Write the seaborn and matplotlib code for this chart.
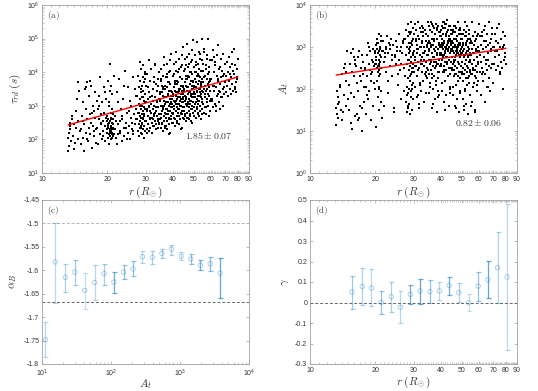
import numpy as np
import pandas as pd
import matplotlib
matplotlib.use("Agg")
import matplotlib.pyplot as plt
import seaborn as sns
from matplotlib.ticker import FixedLocator, FixedFormatter, LogLocator, NullFormatter

# ---------------- data: events (shared r) for panels (a) and (b) ----------------
r_ev = [
    13.2,13.3,13.2,13.4,13.5,13.3,13.6,13.8,13.9,14.0,14.1,14.3,14.4,14.5,14.6,14.7,14.8,14.9,13.7,14.2,14.6,13.4,
    15.1,15.2,15.3,15.4,15.5,15.6,15.7,15.8,15.9,16.0,16.1,16.2,16.3,16.4,16.5,16.6,16.7,16.8,16.9,17.0,17.1,17.2,17.3,17.4,17.5,17.6,17.7,17.8,17.9,15.5,16.2,16.6,17.0,17.4,16.0,
    18.0,18.1,18.2,18.3,18.4,18.5,18.6,18.7,18.8,18.9,19.0,19.1,19.2,19.3,19.4,19.5,19.6,19.7,19.8,19.9,18.3,18.8,19.2,19.6,19.9,
    20.0,20.1,20.1,20.2,20.2,20.3,20.3,20.4,20.4,20.5,20.5,20.6,20.6,20.7,20.7,20.8,20.8,20.9,20.9,21.0,21.0,21.1,21.1,21.2,21.2,21.3,21.3,21.4,21.4,
    20.0,20.2,20.4,20.6,20.8,21.0,21.2,20.1,20.3,20.5,20.7,20.9,21.1,21.3,20.5,20.8,
    21.6,21.8,22.0,22.1,22.3,22.5,22.6,22.8,23.0,23.1,23.3,23.5,23.7,23.9,24.0,24.2,24.4,24.6,24.8,25.0,25.2,25.4,25.6,25.8,26.0,26.2,26.4,26.6,26.8,27.0,27.2,
    21.9,22.4,22.9,23.4,23.8,24.3,24.7,25.1,25.5,25.9,26.3,26.7,27.1,22.2,
    27.4,27.5,27.6,27.7,27.8,27.9,28.0,28.0,28.1,28.2,28.2,28.3,28.3,28.4,28.4,28.5,28.5,28.6,28.6,28.7,28.7,28.8,28.8,28.9,28.9,
    29.0,29.0,29.1,29.1,29.2,29.2,29.3,29.3,29.4,29.4,29.5,29.5,29.6,29.6,29.7,29.7,29.8,29.8,29.9,29.9,28.1,28.5,28.9,29.3,29.7,28.3,28.7,29.1,29.5,29.9,
    30.1,30.2,30.3,30.4,30.5,30.6,30.7,30.8,30.9,31.0,31.1,31.2,31.3,31.4,31.5,31.6,31.7,31.8,31.9,32.0,32.1,32.2,32.3,32.4,32.5,
    32.6,32.7,32.8,32.9,33.0,33.1,33.2,33.3,33.4,33.5,33.6,33.7,33.8,33.9,34.0,34.1,34.2,34.3,34.4,34.5,34.6,34.7,34.8,34.9,
    30.35,30.85,31.35,31.85,32.35,32.85,33.35,33.85,34.35,34.85,30.6,31.1,31.6,32.1,32.6,33.1,33.6,34.1,34.6,31.4,32.9,
    35.0,35.1,35.2,35.3,35.4,35.5,35.6,35.7,35.8,35.9,36.0,36.1,36.2,36.3,36.4,36.5,36.6,36.7,36.8,36.9,37.0,37.1,37.2,37.3,37.4,
    37.5,37.6,37.7,37.8,37.9,38.0,38.1,38.2,38.3,38.4,38.5,38.6,38.7,38.8,38.9,39.0,39.1,39.2,39.3,39.4,39.5,39.6,39.7,39.8,39.9,
    35.05,35.25,35.45,35.65,35.85,36.05,36.25,36.45,36.65,36.85,37.05,37.25,37.45,37.65,37.85,38.05,38.25,38.45,38.65,38.85,39.05,39.25,39.45,39.65,39.85,
    35.5,36.0,36.5,37.0,37.5,38.0,38.5,39.0,39.5,37.2,
    40.0,40.1,40.2,40.3,40.4,40.5,40.6,40.7,40.8,40.9,41.0,41.1,41.2,41.3,41.4,41.5,41.6,41.7,41.8,41.9,42.0,42.1,42.2,42.3,42.4,
    42.5,42.6,42.7,42.8,42.9,43.0,43.1,43.2,43.3,43.4,43.5,43.6,43.7,43.8,43.9,44.0,44.1,44.2,44.3,44.4,44.5,44.6,44.7,44.8,44.9,
    40.05,40.25,40.45,40.65,40.85,41.05,41.25,41.45,41.65,41.85,42.05,42.25,42.45,42.65,42.85,43.05,43.25,43.45,43.65,43.85,44.05,44.25,44.45,44.65,44.85,
    40.5,41.0,41.5,42.0,42.5,43.0,43.5,44.0,44.5,42.2,
    45.0,45.1,45.2,45.3,45.4,45.5,45.6,45.7,45.8,45.9,46.0,46.1,46.2,46.3,46.4,46.5,46.6,46.7,46.8,46.9,47.0,47.1,47.2,47.3,47.4,
    47.5,47.6,47.7,47.8,47.9,48.0,48.1,48.2,48.3,48.4,48.5,48.6,48.7,48.8,48.9,49.0,49.1,49.2,49.3,49.4,49.5,49.6,49.7,49.8,49.9,
    45.05,45.25,45.45,45.65,45.85,46.05,46.25,46.45,46.65,46.85,47.05,47.25,47.45,47.65,47.85,48.05,48.25,48.45,48.65,48.85,49.05,49.25,49.45,49.65,49.85,
    46.0,47.0,48.0,49.0,47.5,
    50.0,50.1,50.2,50.3,50.4,50.5,50.6,50.7,50.8,50.9,51.0,51.1,51.2,51.3,51.4,51.5,51.6,51.7,51.8,51.9,52.0,52.1,52.2,52.3,52.4,
    52.5,52.6,52.7,52.8,52.9,53.0,53.1,53.2,53.3,53.4,53.5,53.6,53.7,53.8,53.9,54.0,54.1,54.2,54.3,54.4,54.5,54.6,54.7,54.8,54.9,
    50.25,50.75,51.25,51.75,52.25,52.75,53.25,53.75,54.25,54.75,51.5,52.5,53.5,54.5,52.0,
    55.0,55.2,55.4,55.6,55.8,56.0,56.2,56.4,56.6,56.8,57.0,57.2,57.4,57.6,57.8,58.0,58.2,58.4,58.6,58.8,59.0,59.2,59.4,59.6,59.8,
    55.1,55.35,55.6,55.85,56.1,56.35,56.6,56.85,57.1,57.35,57.6,57.85,58.1,58.35,58.6,58.85,59.1,59.35,59.6,59.85,
    60.2,60.5,60.8,61.1,61.4,61.7,62.0,62.3,62.6,62.9,63.2,63.5,63.8,64.1,64.4,64.7,65.0,65.3,65.6,65.9,66.2,66.5,66.8,67.1,67.4,67.7,68.0,68.3,68.6,68.9,69.2,69.5,69.8,
    60.9,61.8,62.7,63.6,64.5,65.4,66.3,67.2,68.1,69.0,62.2,64.9,
    70.3,70.7,71.1,71.5,71.9,72.3,72.7,73.1,73.5,73.9,74.3,74.7,75.1,75.5,75.9,76.3,76.7,77.1,77.5,77.9,78.3,78.7,79.1,79.5,79.9,71.3,73.3,75.3,77.3,79.3,
]

log_tau = [
    1.65,1.8,2.05,2.3,2.5,2.2,1.95,2.6,2.1,2.45,1.7,2.85,2.35,3.2,2.0,2.55,3.45,2.25,2.7,1.9,3.7,2.4,
    2.3,1.85,2.7,3.1,2.05,2.45,1.65,3.5,2.2,2.9,2.6,3.7,1.95,2.35,3.3,2.75,2.15,3.6,2.5,1.75,3.0,2.4,2.85,2.1,3.4,2.65,1.9,2.3,3.15,2.55,2.0,3.75,2.8,2.25,3.55,
    2.35,2.9,1.85,3.3,2.6,2.15,3.85,2.45,2.75,2.0,3.1,2.55,2.25,3.55,2.8,1.95,2.4,3.2,2.65,2.3,3.0,2.5,2.1,3.4,2.7,
    2.2,2.45,2.05,2.6,2.35,3.1,2.15,2.5,1.85,2.3,4.25,2.55,2.1,2.4,3.6,2.25,2.0,2.65,2.35,2.9,2.2,2.5,3.35,2.1,2.45,2.75,2.3,3.9,2.15,
    2.55,2.4,3.0,2.25,2.6,2.05,2.35,3.75,2.5,2.2,2.8,2.4,2.15,2.6,3.45,2.3,
    2.3,2.7,2.05,3.4,2.45,2.15,3.8,2.55,2.25,2.9,1.95,2.6,3.2,2.35,2.1,4.05,2.5,2.8,2.2,3.55,2.4,2.0,3.0,2.65,2.3,3.85,2.15,2.75,2.45,3.3,2.9,
    2.55,3.1,2.2,2.7,3.6,2.35,2.0,2.85,3.15,2.5,2.25,3.5,2.6,1.85,
    2.6,3.3,2.25,3.9,2.8,2.45,3.55,2.1,3.05,2.7,4.3,2.35,3.2,2.55,3.75,2.9,2.2,3.4,2.65,4.1,2.4,3.0,2.75,3.6,2.15,
    3.25,2.5,3.85,2.85,2.3,3.45,2.6,4.2,2.95,2.05,3.15,2.7,3.7,2.4,3.35,2.55,2.9,4.0,2.25,3.1,2.8,3.5,2.45,2.65,3.8,3.0,2.35,3.25,2.75,3.95,
    3.1,2.55,3.6,2.3,2.85,3.95,2.45,3.2,2.7,4.35,2.25,3.4,2.95,2.6,3.75,2.35,3.05,2.8,4.1,2.5,3.3,2.65,2.2,3.5,2.9,
    3.15,2.4,3.85,2.75,3.0,2.55,4.2,3.25,2.45,2.85,3.65,2.3,3.1,2.7,3.45,2.95,2.6,3.8,2.35,3.2,2.75,4.0,2.5,3.35,
    2.9,3.55,2.65,3.05,2.4,3.7,2.8,3.15,2.55,3.4,2.2,3.0,2.85,3.3,2.6,4.25,2.95,3.6,2.45,3.25,2.7,
    3.2,2.6,3.75,2.35,3.0,4.1,2.85,3.4,2.5,3.6,2.95,2.25,3.3,3.9,2.7,3.15,4.45,2.55,3.5,2.8,3.05,2.4,3.85,3.25,2.65,
    3.55,2.9,4.25,2.3,3.35,2.75,3.1,3.7,2.45,3.0,4.0,2.6,3.45,2.85,3.2,2.2,3.65,2.95,3.3,2.7,4.55,3.05,2.5,3.4,2.8,
    3.15,2.65,3.8,3.0,2.45,3.5,2.9,4.2,3.25,2.35,3.6,2.75,3.1,3.95,2.55,3.35,2.85,3.7,2.15,3.05,4.35,2.6,3.45,2.95,3.2,
    2.75,3.55,3.0,2.4,3.85,3.3,2.65,4.05,3.1,2.9,
    3.35,2.75,3.9,2.5,3.15,4.25,3.0,3.55,2.65,3.75,3.1,2.4,3.45,4.05,2.85,3.3,4.6,2.7,3.65,2.95,3.2,2.55,4.0,3.4,2.8,
    3.7,3.05,4.4,2.45,3.5,2.9,3.25,3.85,2.6,3.15,4.15,2.75,3.6,3.0,3.35,2.35,3.8,3.1,3.45,2.85,4.75,3.2,2.65,3.55,2.95,
    3.3,2.8,3.95,3.15,2.6,3.65,3.05,4.3,3.4,2.5,3.75,2.9,3.25,4.1,2.7,3.5,3.0,3.85,2.3,3.2,4.5,2.75,3.6,3.1,3.35,
    2.9,3.7,3.15,2.55,4.0,3.45,2.8,4.2,3.25,3.05,
    3.5,2.85,4.05,2.6,3.3,4.4,3.15,3.7,2.75,3.9,3.25,2.55,3.6,4.2,3.0,3.45,4.85,2.8,3.8,3.1,3.35,2.65,4.15,3.55,2.95,
    3.85,3.2,4.55,2.6,3.65,3.05,3.4,4.0,2.75,3.3,4.3,2.9,3.75,3.15,3.5,2.5,3.95,3.25,3.6,3.0,4.95,3.35,2.8,3.7,3.1,
    3.45,2.95,4.1,3.3,2.7,3.8,3.2,4.45,3.55,2.65,3.9,3.05,3.4,4.25,2.85,3.65,3.15,4.0,2.55,3.35,4.65,2.9,3.75,3.25,3.5,
    3.05,3.85,2.7,4.35,3.2,
    3.6,2.95,4.15,2.7,3.4,4.5,3.25,3.8,2.85,4.0,3.35,2.65,3.7,4.3,3.1,3.55,4.9,2.9,3.9,3.2,3.45,2.75,4.25,3.65,3.05,
    3.95,3.3,4.6,2.7,3.75,3.15,3.5,4.1,2.85,3.4,4.4,3.0,3.85,3.25,3.6,2.6,4.05,3.35,3.7,3.1,5.0,3.45,2.9,3.8,3.2,
    3.55,3.05,4.2,3.4,2.8,3.9,3.3,4.55,3.65,2.75,4.0,3.15,3.5,4.35,2.95,
    3.7,3.05,4.25,2.8,3.5,4.6,3.35,3.9,2.95,4.1,3.45,2.75,3.8,4.4,3.2,3.65,5.0,3.0,4.0,3.3,3.55,2.85,4.35,3.75,3.15,
    4.05,3.4,4.7,2.8,3.85,3.25,3.6,4.2,2.95,3.5,4.5,3.1,3.95,3.35,3.7,2.7,4.15,3.45,3.8,3.2,
    3.8,3.2,4.35,2.95,3.6,4.65,3.45,4.0,3.05,4.2,3.55,2.85,3.9,4.5,3.3,3.75,4.8,3.1,4.1,3.4,3.65,2.9,4.4,3.85,3.25,4.05,3.5,4.55,3.0,3.95,3.35,3.7,4.25,
    3.15,3.6,4.3,3.0,3.8,3.45,4.15,3.25,3.9,3.55,4.45,3.35,
    3.9,3.4,4.3,3.6,4.0,3.3,4.45,3.75,3.5,4.15,3.85,3.35,4.6,3.65,4.05,3.45,3.95,4.7,3.55,4.2,3.7,3.4,4.1,3.8,4.4,3.6,3.95,4.25,3.5,3.85,
]

log_At = [
    1.15,1.4,1.55,1.8,1.3,1.95,1.7,2.1,1.5,2.35,1.25,2.5,1.85,2.6,1.6,2.2,2.9,1.75,2.05,1.45,2.4,1.65,
    2.1,1.5,2.6,2.85,1.2,2.4,1.05,2.95,1.8,2.3,2.7,1.35,2.55,2.15,1.4,2.75,1.95,2.9,1.3,1.6,2.5,2.2,2.8,1.0,2.65,2.35,1.7,2.05,2.45,1.9,2.6,1.25,2.3,1.55,2.75,
    2.5,2.05,1.4,2.8,2.3,1.75,3.1,2.6,1.95,2.45,2.9,1.25,2.2,2.7,2.4,1.6,2.95,2.15,2.55,2.85,1.85,3.0,2.35,2.65,2.0,
    2.9,2.6,1.1,3.05,2.75,2.2,3.2,2.5,2.95,1.8,2.85,3.1,2.4,2.7,3.3,2.05,2.9,2.55,1.5,2.8,3.0,2.35,2.65,3.15,1.95,2.75,2.5,2.9,1.3,
    2.6,3.05,2.2,2.85,2.45,2.95,1.7,2.7,3.1,2.4,2.6,2.0,2.8,3.25,2.55,2.3,
    2.9,3.15,1.6,2.75,3.0,2.4,3.25,2.85,1.9,3.1,2.55,2.95,3.2,2.3,2.7,3.05,1.45,2.8,3.15,2.6,2.9,2.1,3.3,2.7,2.45,3.0,1.75,2.85,3.1,2.5,3.2,
    2.65,2.95,2.2,3.05,2.8,1.55,2.75,3.0,2.35,2.9,2.6,3.15,1.95,2.85,
    2.3,3.2,1.7,2.8,3.4,2.05,2.6,1.45,3.0,2.25,3.55,1.9,2.7,3.25,1.55,2.45,3.1,2.0,2.85,3.35,1.65,2.55,3.0,2.2,1.4,
    2.9,3.3,1.8,2.65,2.35,3.6,1.95,2.75,3.15,2.1,1.5,2.5,3.05,2.4,2.8,1.75,3.45,2.15,2.6,3.2,1.85,2.95,2.3,3.1,2.5,1.6,2.7,3.35,2.0,2.85,
    2.9,3.3,2.4,3.55,2.7,2.05,3.15,2.55,3.4,1.8,2.85,3.05,2.3,3.6,2.65,2.95,1.55,3.2,2.5,2.8,3.45,2.15,3.0,2.6,3.35,
    1.95,2.75,3.1,2.4,3.5,2.85,2.2,3.25,2.7,1.7,3.0,2.55,3.4,2.9,2.35,3.15,2.65,1.9,3.3,2.8,2.5,3.05,2.25,3.6,
    2.75,3.2,2.45,1.65,3.0,2.6,3.35,2.9,2.3,3.1,2.55,2.95,3.25,2.1,2.7,3.45,2.85,2.4,3.0,1.85,3.15,
    2.8,3.25,2.35,3.5,2.95,1.9,3.1,2.6,3.4,2.15,3.0,2.7,3.6,2.45,1.55,3.2,2.85,3.35,2.55,2.0,3.05,2.75,3.45,2.3,3.15,
    1.75,2.9,3.3,2.5,3.55,2.65,2.1,3.0,2.85,3.4,1.45,2.6,3.2,2.4,2.95,3.5,2.25,3.1,2.7,1.85,3.35,2.55,3.0,2.8,3.25,
    2.45,3.15,2.9,2.05,3.4,2.65,3.05,2.35,3.55,2.75,1.65,3.2,2.95,2.5,3.3,2.2,3.0,2.8,3.45,2.6,1.95,3.1,2.4,2.85,3.35,
    2.7,3.0,2.25,3.5,2.9,2.55,3.2,1.8,3.05,2.65,
    3.05,2.6,3.4,2.85,3.2,1.95,3.5,2.7,3.1,2.4,3.3,2.95,3.6,2.55,1.7,3.15,2.8,3.45,2.65,2.2,3.0,2.9,3.55,2.45,3.25,
    1.85,3.05,3.35,2.6,3.65,2.75,2.3,3.1,2.95,3.4,1.6,2.7,3.2,2.5,3.0,3.5,2.35,3.15,2.85,2.05,3.3,2.65,3.05,2.9,3.4,
    2.55,3.25,3.0,2.15,3.45,2.75,3.1,2.45,3.6,2.85,1.5,3.3,3.0,2.6,3.35,2.3,3.15,2.9,3.5,2.7,2.0,3.2,2.5,2.95,3.4,
    2.8,3.05,2.4,3.55,2.95,2.65,3.25,1.9,3.1,2.75,
    2.95,2.5,3.3,2.75,3.1,1.85,3.4,2.6,3.0,2.3,3.2,2.85,3.5,2.45,1.6,3.05,2.7,3.35,2.55,2.1,2.9,2.8,3.45,2.35,3.15,
    1.75,2.95,3.25,2.5,3.6,2.65,2.2,3.0,2.85,3.3,1.45,2.6,3.1,2.4,2.9,3.4,2.25,3.05,2.75,1.95,3.2,2.55,2.95,2.8,3.3,
    2.45,3.15,2.9,2.05,3.35,2.65,3.0,2.35,3.5,2.75,1.55,3.2,2.9,2.5,3.25,2.2,3.05,2.8,3.4,2.6,1.9,3.1,2.4,2.85,3.3,
    2.7,3.0,2.3,3.45,2.85,
    2.85,2.4,3.2,2.65,3.0,1.75,3.3,2.5,2.9,2.2,3.1,2.75,3.4,2.35,1.5,2.95,2.6,3.25,2.45,2.0,2.8,2.7,3.35,2.25,3.05,
    1.65,2.85,3.15,2.4,3.5,2.55,2.1,2.9,2.75,3.2,1.4,2.5,3.0,2.3,2.8,3.3,2.15,2.95,2.65,1.85,3.1,2.45,2.85,2.7,3.2,
    2.35,3.05,2.8,1.95,3.25,2.55,2.9,2.25,3.4,2.65,1.6,3.1,2.8,2.4,3.6,
    2.8,2.35,3.15,2.6,2.95,1.7,3.25,2.45,2.85,2.15,3.05,2.7,3.35,2.3,1.5,2.9,2.55,3.2,2.4,1.95,2.75,2.65,3.3,2.2,3.0,
    1.6,2.8,3.1,2.35,3.6,2.5,2.05,2.85,2.7,3.15,1.45,2.45,2.95,2.25,2.75,3.25,2.1,2.9,2.6,3.55,
    2.9,2.4,3.25,2.65,3.05,1.85,3.35,2.5,2.95,2.2,3.15,2.75,3.5,2.35,1.7,3.0,2.6,3.3,2.45,2.05,2.85,2.7,3.6,2.25,3.1,1.95,2.9,3.2,2.5,3.45,2.6,2.15,3.0,
    2.8,3.25,2.4,3.4,2.7,2.05,3.05,2.55,2.95,3.3,2.35,3.15,
    3.0,2.6,3.3,2.75,3.15,2.45,3.45,2.9,2.55,3.1,2.8,3.55,2.35,3.0,2.65,3.2,2.5,2.95,3.35,2.0,2.7,3.05,2.85,3.25,2.6,2.9,3.1,2.4,3.0,2.75,
]

# fitted power laws (endpoints)
fit_r = [13.2, 80.0]
fit_tau = [270.0, 7200.0]
fit_At = [215.0, 930.0]
slope_a_text = r"$1.85 \pm 0.07$"
slope_b_text = r"$0.82 \pm 0.06$"

# ---------------- panel (c) ----------------
c_At = [11.2, 15.5, 21.8, 29.9, 41.6, 57.8, 79.4, 110, 152, 208, 286, 398, 547, 752, 1045, 1436, 1974, 2741, 3811]
c_alpha = [-1.748, -1.582, -1.615, -1.604, -1.643, -1.626, -1.607, -1.625, -1.604, -1.597,
           -1.571, -1.572, -1.564, -1.555, -1.570, -1.576, -1.589, -1.586, -1.606]
c_hi = [-1.711, -1.499, -1.586, -1.577, -1.605, -1.588, -1.586, -1.604, -1.588, -1.581,
        -1.559, -1.559, -1.554, -1.545, -1.561, -1.566, -1.579, -1.572, -1.574]
c_lo = [-1.786, -1.669, -1.646, -1.632, -1.682, -1.663, -1.631, -1.648, -1.619, -1.612,
        -1.584, -1.586, -1.574, -1.568, -1.579, -1.587, -1.599, -1.601, -1.659]
c_shade = [0.28, 0.28, 0.32, 0.36, 0.22, 0.28, 0.36, 0.58, 0.45, 0.42,
           0.28, 0.32, 0.36, 0.32, 0.28, 0.42, 0.52, 0.46, 0.62]
c_ref = [-1.5, -1.667]

# ---------------- panel (d) ----------------
d_r = [15.6, 17.4, 19.2, 21.3, 23.7, 26.1, 29.0, 32.2, 35.7, 39.5, 43.8, 48.5, 53.8, 59.6, 66.1, 73.2, 81.1]
d_gamma = [0.051, 0.078, 0.070, 0.001, 0.028, -0.023, 0.040, 0.056, 0.053, 0.057, 0.083, 0.048, -0.001, 0.080, 0.111, 0.170, 0.124]
d_hi = [0.130, 0.169, 0.161, 0.056, 0.100, 0.057, 0.085, 0.117, 0.111, 0.100, 0.125, 0.094, 0.041, 0.148, 0.201, 0.342, 0.481]
d_lo = [-0.030, -0.012, -0.019, -0.057, -0.044, -0.099, -0.009, -0.006, -0.004, 0.014, 0.036, 0.002, -0.041, 0.007, 0.020, -0.001, -0.230]
d_shade = [0.38, 0.32, 0.28, 0.42, 0.32, 0.28, 0.56, 0.62, 0.42, 0.28, 0.56, 0.32, 0.22, 0.42, 0.62, 0.32, 0.28]

r_ticks = [10, 20, 30, 40, 50, 60, 70, 80, 90]

# ---------------- style ----------------
sns.set_theme(style="ticks")
plt.rcParams.update({
    "font.family": ["Liberation Sans", "DejaVu Sans"],
    "mathtext.fontset": "cm",
    "mathtext.rm": "Liberation Sans",
    "mathtext.it": "Liberation Sans:italic",
    "mathtext.bf": "Liberation Sans:bold",
    "axes.edgecolor": "#a0a0a0",
    "axes.linewidth": 0.6,
    "xtick.color": "#a0a0a0", "ytick.color": "#a0a0a0",
    "xtick.labelcolor": "#333333", "ytick.labelcolor": "#333333",
    "xtick.direction": "in", "ytick.direction": "in",
    "xtick.major.size": 2.5, "ytick.major.size": 2.5,
    "xtick.minor.size": 1.3, "ytick.minor.size": 1.3,
    "xtick.major.width": 0.5, "ytick.major.width": 0.5,
    "xtick.minor.width": 0.4, "ytick.minor.width": 0.4,
    "xtick.labelsize": 5, "ytick.labelsize": 5,
    "xtick.major.pad": 2.5, "ytick.major.pad": 2,
    "axes.labelcolor": "#333333",
})

W, H = 538.0, 391.0
fig = plt.figure(figsize=(W / 100, H / 100), dpi=100)
ax_a = fig.add_axes([42 / W, 1 - 173 / H, 207 / W, 168 / H])
ax_b = fig.add_axes([310 / W, 1 - 173 / H, 207 / W, 168 / H])
ax_c = fig.add_axes([42 / W, 1 - 364 / H, 207 / W, 164 / H])
ax_d = fig.add_axes([310 / W, 1 - 364 / H, 207 / W, 164 / H])

n = min(len(r_ev), len(log_tau), len(log_At))
df = pd.DataFrame({"r": r_ev[:n],
                   "tau": 10 ** np.array(log_tau[:n]),
                   "At": 10 ** np.array(log_At[:n])})

LBL = dict(fontsize=8, color="#333333")


def r_axis(ax):
    ax.set_xscale("log")
    ax.set_xlim(10, 90)
    ax.xaxis.set_major_locator(FixedLocator(r_ticks))
    ax.xaxis.set_major_formatter(FixedFormatter([str(t) for t in r_ticks]))
    ax.xaxis.set_minor_locator(FixedLocator([v for v in range(11, 90) if v % 10]))
    ax.xaxis.set_minor_formatter(NullFormatter())


def log_y(ax, lo, hi):
    ax.set_yscale("log")
    ax.set_ylim(10 ** lo, 10 ** hi)
    ex = list(range(lo, hi + 1))
    ax.set_yticks([10.0 ** e for e in ex], [f"$10^{{{e}}}$" for e in ex], math_fontfamily="custom")
    ax.yaxis.set_minor_locator(LogLocator(base=10, subs=np.arange(2, 10), numticks=30))
    ax.yaxis.set_minor_formatter(NullFormatter())


def finish(ax):
    for s in ax.spines.values():
        s.set_visible(True)
    ax.tick_params(which="both", top=True, right=True)


DOT = dict(s=1.6, color="black", linewidth=0, legend=False, marker="s")

# (a)
sns.scatterplot(data=df, x="r", y="tau", ax=ax_a, **DOT)
sns.lineplot(x=fit_r, y=fit_tau, ax=ax_a, color="red", lw=1.0)
r_axis(ax_a)
log_y(ax_a, 1, 6)
ax_a.set_xlabel(r"$r\;(R_\odot)$", labelpad=1, **LBL)
ax_a.set_ylabel(r"$\tau_{rd}\;(s)$", labelpad=3, **LBL)
ax_a.text(0.022, 0.975, r"$\mathrm{(a)}$", transform=ax_a.transAxes, ha="left", va="top", fontsize=6.5, color="#333333")
ax_a.text(0.69, 0.225, slope_a_text, transform=ax_a.transAxes, ha="left", va="center", fontsize=7, color="#333333")
finish(ax_a)

# (b)
sns.scatterplot(data=df, x="r", y="At", ax=ax_b, **DOT)
sns.lineplot(x=fit_r, y=fit_At, ax=ax_b, color="red", lw=1.0)
r_axis(ax_b)
log_y(ax_b, 0, 4)
ax_b.set_xlabel(r"$r\;(R_\odot)$", labelpad=1, **LBL)
ax_b.set_ylabel(r"$A_t$", labelpad=3, **LBL)
ax_b.text(0.022, 0.975, r"$\mathrm{(b)}$", transform=ax_b.transAxes, ha="left", va="top", fontsize=6.5, color="#333333")
ax_b.text(0.70, 0.30, slope_b_text, transform=ax_b.transAxes, ha="left", va="center", fontsize=7, color="#333333")
finish(ax_b)

base = (0.0, 0.447, 0.741)


def err_panel(ax, xs, ys, his, los, shades):
    for x, y, hi, lo, a in zip(xs, ys, his, los, shades):
        ax.errorbar([x], [y], yerr=[[y - lo], [hi - y]], fmt="none",
                    ecolor=(*base, a), elinewidth=0.9, capsize=1.8, capthick=0.9, zorder=3)
    sns.scatterplot(x=xs, y=ys, ax=ax, marker="o", s=10, facecolor="none",
                    edgecolor=(*base, 0.32), linewidth=0.7, legend=False, zorder=4)


# (c)
ax_c.axhline(c_ref[0], color="#b5b5b5", ls="--", lw=0.7, dashes=(3, 2), zorder=1)
ax_c.axhline(c_ref[1], color="#666666", ls="--", lw=0.7, dashes=(3, 2), zorder=1)
err_panel(ax_c, c_At, c_alpha, c_hi, c_lo, c_shade)
ax_c.set_xscale("log")
ax_c.set_xlim(10, 1e4)
ax_c.set_xticks([10, 100, 1000, 10000], [f"$10^{{{e}}}$" for e in range(1, 5)], math_fontfamily="custom")
ax_c.xaxis.set_minor_locator(LogLocator(base=10, subs=np.arange(2, 10), numticks=30))
ax_c.xaxis.set_minor_formatter(NullFormatter())
ax_c.set_ylim(-1.8, -1.45)
c_yt = [-1.8, -1.75, -1.7, -1.65, -1.6, -1.55, -1.5, -1.45]
ax_c.set_yticks(c_yt, ["-1.8", "-1.75", "-1.7", "-1.65", "-1.6", "-1.55", "-1.5", "-1.45"])
ax_c.set_xlabel(r"$A_t$", labelpad=-1, **LBL)
ax_c.set_ylabel(r"$\alpha_B$", labelpad=3, **LBL)
ax_c.text(0.022, 0.975, r"$\mathrm{(c)}$", transform=ax_c.transAxes, ha="left", va="top", fontsize=6.5, color="#333333")
finish(ax_c)

# (d)
ax_d.axhline(0, color="#666666", ls="--", lw=0.7, dashes=(3, 2), zorder=1)
err_panel(ax_d, d_r, d_gamma, d_hi, d_lo, d_shade)
r_axis(ax_d)
ax_d.set_ylim(-0.3, 0.5)
d_yt = [-0.3, -0.2, -0.1, 0.0, 0.1, 0.2, 0.3, 0.4, 0.5]
ax_d.set_yticks(d_yt, ["-0.3", "-0.2", "-0.1", "0", "0.1", "0.2", "0.3", "0.4", "0.5"])
ax_d.set_xlabel(r"$r\;(R_\odot)$", labelpad=0, **LBL)
ax_d.set_ylabel(r"$\gamma$", labelpad=3, **LBL)
ax_d.text(0.022, 0.975, r"$\mathrm{(d)}$", transform=ax_d.transAxes, ha="left", va="top", fontsize=6.5, color="#333333")
finish(ax_d)

fig.savefig("out.png", dpi=100)
